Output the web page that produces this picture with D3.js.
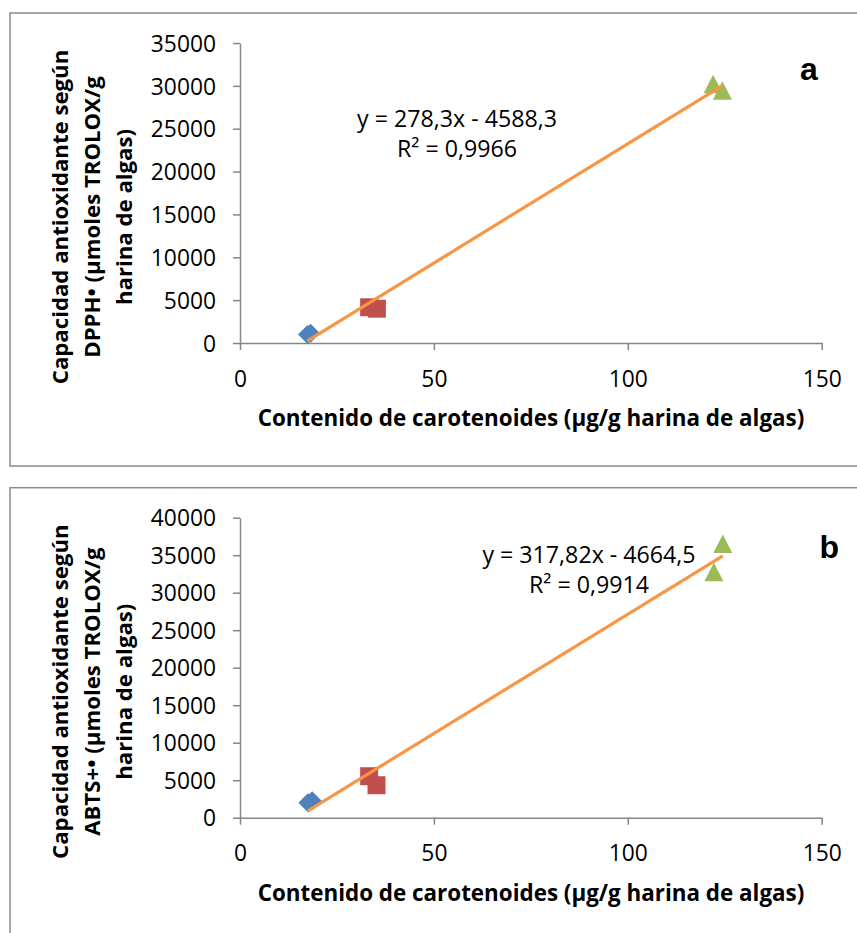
<!DOCTYPE html>
<html>
<head>
<meta charset="utf-8">
<script src="https://cdn.jsdelivr.net/npm/d3@7"></script>
<style>
    body { margin: 0; background: #fff; }
    svg { display: block; }
</style>
</head>
<body>
<svg id="chart"></svg>
<script>
// Tick values for both panels
const xTicks = [0, 50, 100, 150];
const dpphTicks = [0, 5000, 10000, 15000, 20000, 25000, 30000, 35000];
const abtsTicks = [0, 5000, 10000, 15000, 20000, 25000, 30000, 35000, 40000];

// Panel a: carotenoids (x) vs DPPH capacity (y), one array per species
const dpphBlue = [[17.4, 1000], [18.2, 1150]];
const dpphRed = [[33.3, 4170], [35.3, 4000]];
const dpphGreen = [[122.0, 30200], [124.4, 29430]];
// slope, intercept, R²
const dpphTrend = [278.3, -4588.3, 0.9966];

// Panel b: carotenoids (x) vs ABTS capacity (y)
const abtsBlue = [[17.5, 2000], [18.6, 2250]];
const abtsRed = [[33.3, 5530], [35.2, 4330]];
const abtsGreen = [[124.5, 36500], [122.2, 32730]];
const abtsTrend = [317.82, -4664.5, 0.9914];

const xTitle = "Contenido de carotenoides (µg/g harina de algas)";

const width = 857, height = 933;
const svg = d3.select("#chart").attr("width", width).attr("height", height);

const font = "'Open Sans', 'Noto Sans', sans-serif";
const axisColor = "#868686";

// Marker paths drawn around (0,0)
function markerPath(shape) {
    if (shape === "diamond") return "M0,-9.5L9.5,0L0,9.5L-9.5,0Z";
    if (shape === "square") return "M-9,-9H9V9H-9Z";
    return "M0,-9.5L9.5,9L-9.5,9Z";
}

// Decimal comma like the original
function fmt(v) {
    return String(v).replace(".", ",");
}

function renderPanel(p) {
    const g = svg.append("g").attr("transform", "translate(0," + p.oy + ")");

    // Panel frame (right side runs off the page)
    g.append("rect")
        .attr("x", 10).attr("y", 13)
        .attr("width", 900).attr("height", 453)
        .attr("fill", "none")
        .attr("stroke", "#8a8a8a")
        .attr("stroke-width", 1.5);

    const x = d3.scaleLinear().domain([0, 150]).range([240, 821.7]);
    const y = d3.scaleLinear().domain([0, d3.max(p.yTicks)]).range([343, 43]);

    // Y axis
    const ya = g.append("g")
        .attr("transform", "translate(240,0)")
        .call(d3.axisLeft(y).tickValues(p.yTicks).tickSize(7).tickSizeOuter(0).tickFormat(d3.format("d")));
    ya.selectAll("text")
        .attr("x", -24)
        .attr("dy", "0.36em")
        .attr("font-family", font)
        .attr("font-size", "22.8px")
        .attr("fill", "#000");

    // X axis
    const xa = g.append("g")
        .attr("transform", "translate(0,343)")
        .call(d3.axisBottom(x).tickValues(xTicks).tickSize(7).tickSizeOuter(0));
    xa.selectAll("text")
        .attr("y", 43.7)
        .attr("dy", 0)
        .attr("font-family", font)
        .attr("font-size", "22.8px")
        .attr("fill", "#000");

    g.selectAll(".domain, .tick line")
        .attr("stroke", axisColor)
        .attr("stroke-width", 1.5);

    // Markers first, trend line on top (as Excel does)
    p.series.forEach((s) => {
        g.append("g")
            .selectAll("path")
            .data(s.data)
            .enter()
            .append("path")
            .attr("d", markerPath(s.shape))
            .attr("transform", (d) => "translate(" + x(d[0]) + "," + y(d[1]) + ")")
            .attr("fill", s.color);
    });

    // Trend line over the x range of the data
    const all = p.series.flatMap((s) => s.data);
    const [slope, intercept, r2] = p.trend;
    const xr = d3.extent(all, (d) => d[0]);
    g.append("line")
        .attr("x1", x(xr[0])).attr("y1", y(slope * xr[0] + intercept))
        .attr("x2", x(xr[1])).attr("y2", y(slope * xr[1] + intercept))
        .attr("stroke", "#F79646")
        .attr("stroke-width", 3.2);

    // Equation text
    const eq = g.append("g")
        .attr("font-family", font)
        .attr("font-size", "23.2px")
        .attr("text-anchor", "middle")
        .attr("fill", "#000");
    eq.append("text")
        .attr("x", p.eqX).attr("y", p.eqY)
        .text("y = " + fmt(slope) + "x - " + fmt(-intercept));
    eq.append("text")
        .attr("x", p.eqX).attr("y", p.eqY + 29.5)
        .text("R² = " + fmt(r2));

    // Panel letter
    g.append("text")
        .attr("x", p.letterX).attr("y", p.letterY)
        .attr("font-family", "'Liberation Sans', Arial, sans-serif")
        .attr("font-weight", "bold")
        .attr("font-size", "32px")
        .text(p.letter);

    // X axis title
    g.append("text")
        .attr("x", 531).attr("y", 426)
        .attr("text-anchor", "middle")
        .attr("font-family", font)
        .attr("font-weight", "bold")
        .attr("font-size", "22.4px")
        .text(xTitle);

    // Y axis title, three rotated lines
    const baseX = [67.7, 99.5, 131.5];
    p.yTitle.forEach((line, i) => {
        g.append("text")
            .attr("transform", "translate(" + baseX[i] + ",217) rotate(-90)")
            .attr("text-anchor", "middle")
            .attr("font-family", font)
            .attr("font-weight", "bold")
            .attr("font-size", "22.2px")
            .text(line);
    });
}

renderPanel({
    oy: 0,
    yTicks: dpphTicks,
    trend: dpphTrend,
    series: [
        { data: dpphBlue, shape: "diamond", color: "#4F81BD" },
        { data: dpphRed, shape: "square", color: "#C0504D" },
        { data: dpphGreen, shape: "triangle", color: "#9BBB59" }
    ],
    eqX: 457, eqY: 127.3,
    letter: "a", letterX: 800, letterY: 80,
    yTitle: ["Capacidad antioxidante según", "DPPH• (µmoles TROLOX/g", "harina de algas)"]
});

renderPanel({
    oy: 474.7,
    yTicks: abtsTicks,
    trend: abtsTrend,
    series: [
        { data: abtsBlue, shape: "diamond", color: "#4F81BD" },
        { data: abtsRed, shape: "square", color: "#C0504D" },
        { data: abtsGreen, shape: "triangle", color: "#9BBB59" }
    ],
    eqX: 589, eqY: 563.3 - 474.7,
    letter: "b", letterX: 819.5, letterY: 557.7 - 474.7,
    yTitle: ["Capacidad antioxidante según", "ABTS+• (µmoles TROLOX/g", "harina de algas)"]
});
</script>
</body>
</html>
